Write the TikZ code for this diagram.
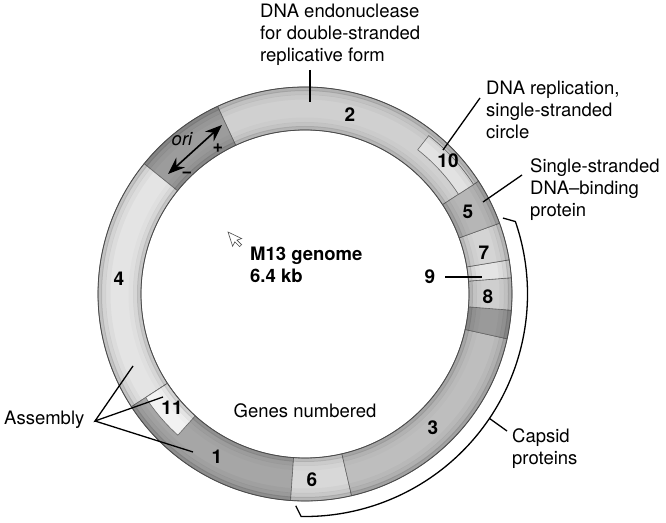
\documentclass[tikz,border=0pt]{standalone}
\usepackage{fontspec}
\setmainfont{TeX Gyre Heros}
\usetikzlibrary{arrows.meta}
\definecolor{cTwo}{HTML}{D0D0D0}
\definecolor{cOri}{HTML}{9C9C9C}
\definecolor{cFour}{HTML}{E4E4E4}
\definecolor{cOne}{HTML}{A6A6A6}
\definecolor{cSix}{HTML}{D8D8D8}
\definecolor{cThree}{HTML}{BEBEBE}
\definecolor{cDark}{HTML}{9A9A9A}
\definecolor{cEight}{HTML}{CFCFCF}
\definecolor{cNine}{HTML}{E4E4E4}
\definecolor{cSeven}{HTML}{D4D4D4}
\definecolor{cFive}{HTML}{B6B6B6}
\definecolor{cTen}{HTML}{E2E2E2}
\definecolor{cEleven}{HTML}{F2F2F2}
\newcommand\ringseg[5]{%
  \filldraw[fill=#5, segline] (#1:#3pt) -- (#1:#4pt) arc[start angle=#1,end angle=#2,radius=#4pt] -- (#2:#3pt) arc[start angle=#2,end angle=#1,radius=#3pt] -- cycle;}
\begin{document}
\begin{tikzpicture}[x=1pt,y=1pt,
  lbl/.style={font=\fontsize{18.5}{22}\selectfont, inner sep=0pt, align=left},
  num/.style={font=\fontsize{19}{22}\selectfont\bfseries, inner sep=0pt},
  lead/.style={line width=1.3pt, black},
  segline/.style={draw=black!60, line width=0.6pt}
]
\useasboundingbox (0,0) rectangle (666,522);
\begin{scope}[shift={(305,228)}]
  \ringseg{33}{115}{164}{207}{cTwo}
  \ringseg{115}{141}{164}{207}{cOri}
  \ringseg{141}{213}{164}{207}{cFour}
  \ringseg{213}{266}{164}{207}{cOne}
  \ringseg{266}{283}{164}{207}{cSix}
  \ringseg{283}{347.5}{164}{207}{cThree}
  \ringseg{347.5}{355.5}{164}{207}{cDark}
  \ringseg{355.5}{364.5}{164}{207}{cEight}
  \ringseg{364.5}{369.5}{164}{207}{cNine}
  \ringseg{369.5}{380}{164}{207}{cSeven}
  \ringseg{380}{393}{164}{207}{cFive}
  \ringseg{33}{52}{183}{201}{cTen}
  \ringseg{213}{228}{164}{190}{cEleven}
  \foreach \r/\w/\o in {205/4/0.15, 201.5/5/0.07, 197/5/0.03, 166/4/0.13, 169.5/5/0.06, 174/5/0.02}
    \draw[black, opacity=\o, line width=\w pt] (0,0) circle[radius=\r pt];
  \draw[black!70, line width=0.8pt] (0,0) circle[radius=207pt];
  \draw[black!70, line width=0.8pt] (0,0) circle[radius=164pt];
  % capsid bracket
  \coordinate (brA) at (21:212pt);
  \coordinate (brB) at (19:222.5pt);
  \coordinate (brC) at (-92.5:212pt);
  \coordinate (capA) at (-34:222.5pt);
  \draw[lead] (brA) -- (brB) arc[start angle=19,end angle=-91,radius=222.5pt] -- (brC);
\end{scope}

% ori
\coordinate (oriA) at (168,348);
\coordinate (oriB) at (222,397);
\draw[line width=1.6pt, {Stealth[length=17pt,width=13pt]}-{Stealth[length=17pt,width=13pt]}] (oriA) -- (oriB);
\node[font=\fontsize{18.5}{22}\selectfont\itshape, inner sep=0pt] (ori) at (182,383) {ori};
\node[font=\fontsize{18}{22}\selectfont\bfseries, inner sep=0pt] (plus) at (218,374) {+};
\node[font=\fontsize{18}{22}\selectfont\bfseries, inner sep=0pt] (minus) at (187,347) {\char"2212};

% gene numbers
\node[num] (g2) at (350,407) {2};
\node[num] (g10) at (448,361) {10};
\node[num] (g5) at (468,310) {5};
\node[num] (g7) at (484,269) {7};
\node[num] (g8) at (488,225) {8};
\node[num] (g4) at (119,243) {4};
\node[num] (g1) at (217,65) {1};
\node[num] (g6) at (312,42) {6};
\node[num] (g3) at (433,94) {3};
\node[num] (g11) at (172,114) {11};
\node[num] (g9) at (430,245) {9};

% labels (base anchor = baseline of last line)
\node[lbl, anchor=base west] (endo) at (260,460) {DNA endonuclease\\for double-stranded\\replicative form};
\node[lbl, anchor=base west] (repl) at (486,383) {DNA replication,\\single-stranded\\circle};
\node[lbl, anchor=base west] (ssb) at (530,305) {Single-stranded\\DNA–binding\\protein};
\node[lbl, anchor=base west] (caps) at (512,58) {Capsid\\proteins};
\node[lbl, anchor=base west] (asm) at (4,97) {Assembly};
\node[lbl, anchor=base west, font=\fontsize{18.5}{22}\selectfont\bfseries] (m13) at (250,239) {M13 genome\\6.4 kb};
\node[lbl, anchor=base] (genes) at (305,104) {Genes numbered};

% leaders
\coordinate (endoA) at (310,452);
\coordinate (endoB) at (310,420);
\draw[lead] (endoA) -- (endoB);
\coordinate (replA) at (480,424);
\coordinate (replB) at (443,372);
\draw[lead] (replA) -- (replB);
\coordinate (ssbA) at (522,347);
\coordinate (ssbB) at (483,320);
\draw[lead] (ssbA) -- (ssbB);
\coordinate (nineA) at (445,245);
\coordinate (nineB) at (482,245);
\draw[lead] (nineA) -- (nineB);
\coordinate (capB) at (507,91);
\draw[lead] (capA) -- (capB);
\coordinate (asmP) at (95,101);
\coordinate (asm1) at (133,156);
\coordinate (asm2) at (163,125);
\coordinate (asm3) at (193,70);
\draw[lead] (asm1) -- (asmP) -- (asm2);
\draw[lead] (asmP) -- (asm3);

% cursor
\draw[black!70, fill=white, line width=0.6pt, shift={(228,290)}, rotate=18]
  (0,0) -- (0,-15) -- (3.5,-11.5) -- (6.5,-17.5) -- (9,-16.3) -- (6,-10.5) -- (11,-10.5) -- cycle;
\end{tikzpicture}
\end{document}
